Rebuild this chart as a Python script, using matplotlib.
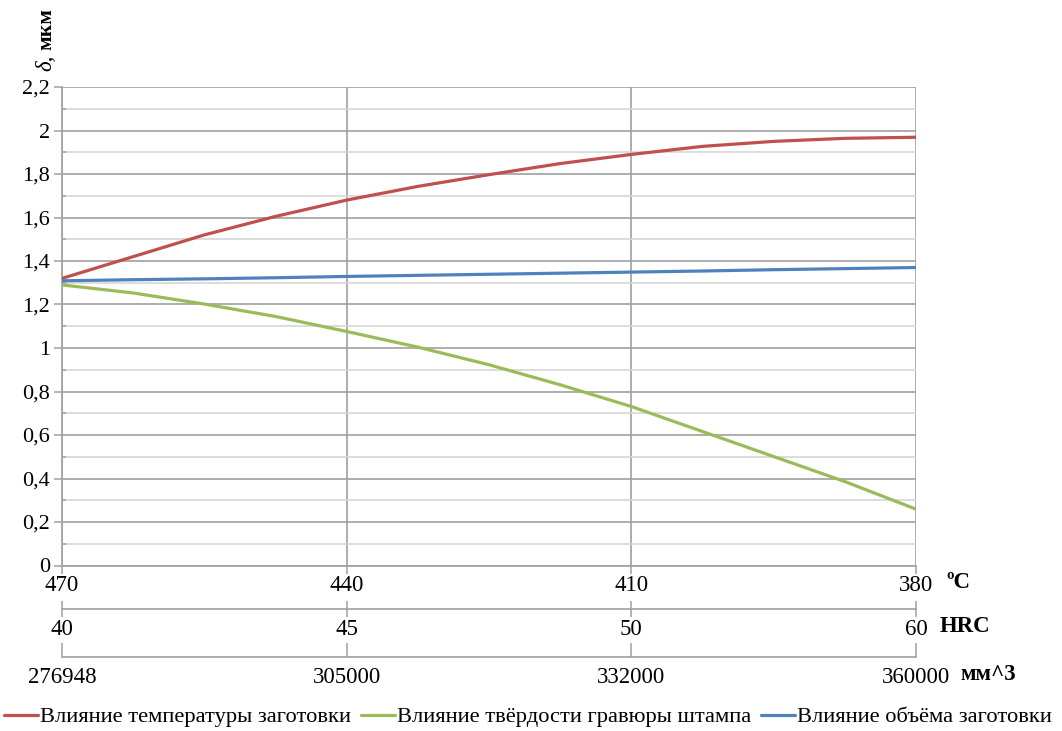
import matplotlib
matplotlib.use("Agg")
import matplotlib.pyplot as plt
import numpy as np
from matplotlib.ticker import MultipleLocator, FuncFormatter

plt.rcParams["font.family"] = ["Liberation Serif", "DejaVu Serif"]

# Category labels for the three stacked x scales
temp_labels = ["470", "440", "410", "380"]
hrc_labels = ["40", "45", "50", "60"]
volume_labels = ["276948", "305000", "332000", "360000"]

# Sample positions along the category axis (quarter-category steps)
x_steps = np.arange(13) / 4.0

# δ, мкм for each factor
temp_effect = [1.32, 1.42, 1.52, 1.605, 1.68, 1.743, 1.797, 1.848, 1.89,
               1.927, 1.950, 1.964, 1.969]
hardness_effect = [1.29, 1.253, 1.202, 1.145, 1.076, 1.004, 0.923, 0.831, 0.731,
                   0.616, 0.501, 0.386, 0.259]
volume_effect = [1.309, 1.314, 1.318, 1.323, 1.329, 1.334, 1.339, 1.344, 1.349,
                 1.354, 1.360, 1.365, 1.370]

series_names = ["Влияние температуры заготовки",
                "Влияние твёрдости гравюры штампа",
                "Влияние объёма заготовки"]
series_colors = ["#C0504D", "#9BBB59", "#4F81BD"]

W, H = 1062, 731
fig = plt.figure(figsize=(W / 100, H / 100), dpi=100)
left, right, top, bottom = 62, 916, 87, 565.5
ax = fig.add_axes([left / W, 1 - bottom / H, (right - left) / W, (bottom - top) / H])

major_grey = "#a0a0a0"
minor_grey = "#d6d6d6"

for vals, name, col in zip([temp_effect, hardness_effect, volume_effect],
                           series_names, series_colors):
    ax.plot(x_steps, vals, color=col, lw=2.3, label=name, zorder=3,
            solid_capstyle="round")

ax.set_xlim(0, 3)
ax.set_ylim(0, 2.2)

# y axis: major every 0.2, minor every 0.1
ax.yaxis.set_major_locator(MultipleLocator(0.2))
ax.yaxis.set_minor_locator(MultipleLocator(0.1))
ax.yaxis.set_major_formatter(FuncFormatter(
    lambda v, p: ("%g" % round(v, 1)).replace(".", ",")))
ax.grid(axis="y", which="major", color=major_grey, lw=1.2)
ax.grid(axis="y", which="minor", color=minor_grey, lw=1.2)
ax.grid(axis="x", which="major", color=major_grey, lw=1.2)
ax.set_axisbelow(True)

ax.tick_params(axis="y", which="major", direction="out", length=6, width=1.1,
               color=major_grey, labelsize=16, pad=2.5)
ax.tick_params(axis="y", which="minor", direction="in", length=3, width=1.1,
               color=major_grey)

# primary x axis: temperature
ax.set_xticks(range(len(temp_labels)), temp_labels)
ax.tick_params(axis="x", direction="out", length=6, width=1.1, color=major_grey,
               labelsize=16.5, pad=0.8)

for s in ["top", "right"]:
    ax.spines[s].set_visible(False)
for s in ["left", "bottom"]:
    ax.spines[s].set_color(major_grey)
    ax.spines[s].set_linewidth(1.2)

# secondary x axes: hardness and volume
sec_hrc = ax.secondary_xaxis(-(609 - bottom) / (bottom - top))
sec_hrc.set_xticks(range(len(hrc_labels)), hrc_labels)
sec_hrc.tick_params(axis="x", direction="inout", length=11, width=1.1,
                    color=major_grey, labelsize=16.5, pad=2)
sec_hrc.spines["bottom"].set_color(major_grey)
sec_hrc.spines["bottom"].set_linewidth(1.2)

sec_vol = ax.secondary_xaxis(-(657 - bottom) / (bottom - top))
sec_vol.set_xticks(range(len(volume_labels)), volume_labels)
sec_vol.tick_params(axis="x", direction="in", length=10, width=1.1,
                    color=major_grey, labelsize=16.5, pad=7)
sec_vol.spines["bottom"].set_color(major_grey)
sec_vol.spines["bottom"].set_linewidth(1.2)

# units of each scale
unit_kw = dict(fontsize=16.5, fontweight="bold", va="center", ha="left")
fig.text(946 / W, 1 - 583 / H, "ºC", **unit_kw)
fig.text(940 / W, 1 - 627 / H, "HRC", **unit_kw)
fig.text(960 / W, 1 - 675 / H, "мм^3", **unit_kw)

# y axis title: italic delta, bold unit
t1 = fig.text(46 / W, 1 - 71 / H, "δ,", rotation=90, fontsize=16.5,
              fontstyle="italic", ha="center", va="bottom")
ax.annotate("мкм", xy=(0.5, 1.0), xycoords=t1, rotation=90, fontsize=15.5,
            fontweight="bold", ha="center", va="bottom",
            xytext=(0, 3), textcoords="offset points", annotation_clip=False)

fig.legend(loc="center", bbox_to_anchor=(528 / W, 1 - 717 / H), ncol=3,
           frameon=False, fontsize=16.2, handlelength=1.5, handletextpad=0.1,
           columnspacing=0.45, borderaxespad=0)

fig.savefig("out.png", dpi=100, facecolor="white")
